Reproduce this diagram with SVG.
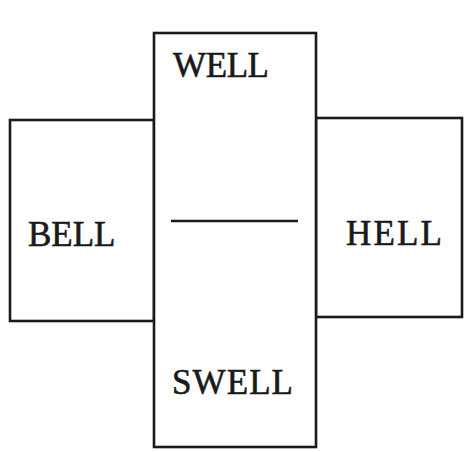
<svg xmlns="http://www.w3.org/2000/svg" width="464" height="452" viewBox="0 0 464 452">
<style>
.box{fill:#fff;stroke:#1a1a1a;stroke-width:2.6}
.t{font-family:"Liberation Serif","Times New Roman",serif;font-size:35px;fill:#1a1a1a;stroke:#1a1a1a;stroke-width:0.6}
</style>
<rect width="464" height="452" fill="#fff"/>
<g id="bell"><rect class="box" x="10" y="120" width="144" height="201"/><text class="t" x="28" y="246">BELL</text></g>
<g id="hell"><rect class="box" x="316" y="118" width="146" height="199"/><text class="t" x="346" y="245" textLength="96">HELL</text></g>
<g id="well"><rect class="box" x="154" y="33" width="162" height="414"/>
<text class="t" x="173" y="77" textLength="96">WELL</text>
<line x1="171" y1="221" x2="298" y2="221" stroke="#1a1a1a" stroke-width="2.6"/>
<text class="t" x="172" y="394" textLength="121">SWELL</text></g>
</svg>
